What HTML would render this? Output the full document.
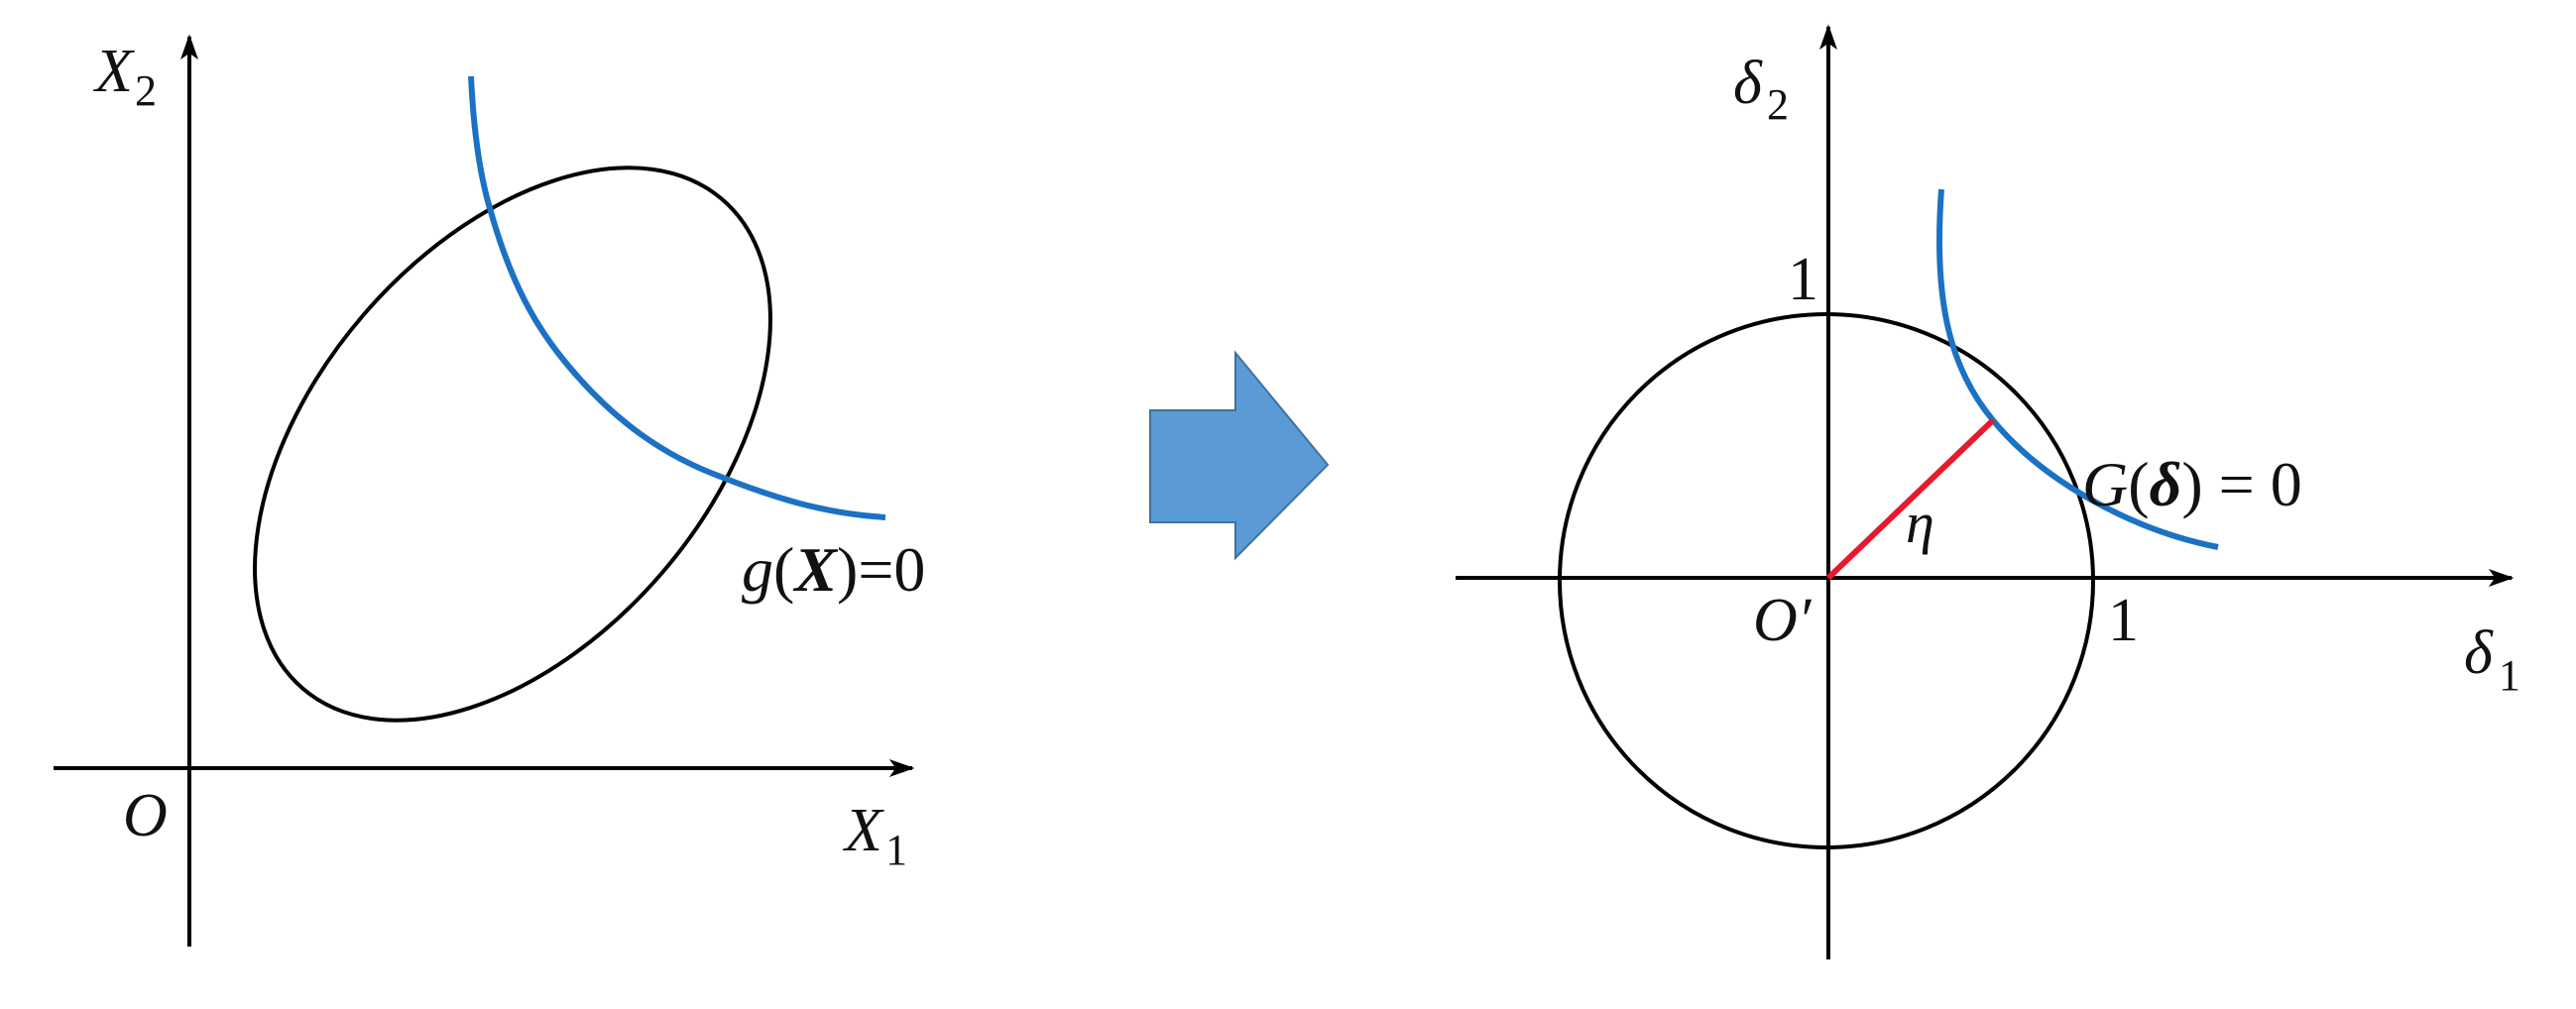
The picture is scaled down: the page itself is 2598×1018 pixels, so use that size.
<!DOCTYPE html>
<html><head><meta charset="utf-8"><style>
html,body{margin:0;padding:0;background:#fff;overflow:hidden;}
svg{display:block;}
text{font-family:"Liberation Serif",serif;fill:#111;}
</style></head><body>
<svg width="2598" height="1018" viewBox="0 0 2598 1018" xmlns="http://www.w3.org/2000/svg">
<defs>
<marker id="ah" viewBox="0 0 20 14" refX="18" refY="7" markerWidth="26" markerHeight="18" markerUnits="userSpaceOnUse" orient="auto">
<path d="M0,0 L20,7 L0,14 L5,7 Z" fill="#000"/>
</marker>
</defs>
<!-- Left panel -->
<line x1="191" y1="955" x2="191" y2="37" stroke="#000" stroke-width="4" marker-end="url(#ah)"/>
<line x1="54" y1="775" x2="920" y2="775" stroke="#000" stroke-width="4" marker-end="url(#ah)"/>
<ellipse cx="517" cy="448" rx="325" ry="199" transform="rotate(-49.4 517 448)" fill="none" stroke="#000" stroke-width="4"/>
<path d="M475,77 C478,140 485,180 494,210 C515,285 540,330 574,370 C620,425 670,460 727,481 C780,502 830,518 893,522" fill="none" stroke="#1b72c4" stroke-width="6"/>
<text x="96" y="92" font-size="62" font-style="italic">X</text><text x="136" y="106" font-size="44">2</text>
<text x="124" y="843" font-size="62" font-style="italic">O</text>
<text x="852" y="858" font-size="62" font-style="italic">X</text><text x="893" y="872" font-size="44">1</text>
<text x="748" y="596" font-size="64"><tspan font-style="italic">g</tspan>(<tspan font-style="italic" font-weight="bold">X</tspan>)=0</text>
<!-- Arrow -->
<polygon points="1160,414 1246,414 1246,356 1339,469 1246,563 1246,527 1160,527" fill="#5b9bd5" stroke="#41719c" stroke-width="2"/>
<!-- Right panel -->
<line x1="1844" y1="968" x2="1844" y2="27" stroke="#000" stroke-width="4" marker-end="url(#ah)"/>
<line x1="1468" y1="583" x2="2533" y2="583" stroke="#000" stroke-width="4" marker-end="url(#ah)"/>
<circle cx="1842" cy="586" r="269" fill="none" stroke="#000" stroke-width="4"/>
<path d="M1958,191 C1950,300 1965,370 2010,424 C2060,485 2150,535 2237,552" fill="none" stroke="#1b72c4" stroke-width="6"/>
<line x1="1844" y1="583" x2="2010" y2="424" stroke="#e8192c" stroke-width="6"/>
<text x="1748" y="104" font-size="62" font-style="italic">δ</text><text x="1782" y="120" font-size="44">2</text>
<text x="1803" y="302" font-size="62">1</text>
<text x="2100" y="510" font-size="64"><tspan font-style="italic">G</tspan>(<tspan font-style="italic" font-weight="bold">δ</tspan>) = 0</text>
<text x="1922" y="547" font-size="58" font-style="italic">η</text>
<text x="1768" y="646" font-size="62" font-style="italic">O′</text>
<text x="2126" y="646" font-size="62">1</text>
<text x="2485" y="679" font-size="62" font-style="italic">δ</text><text x="2520" y="696" font-size="44">1</text>
</svg>
</body></html>
